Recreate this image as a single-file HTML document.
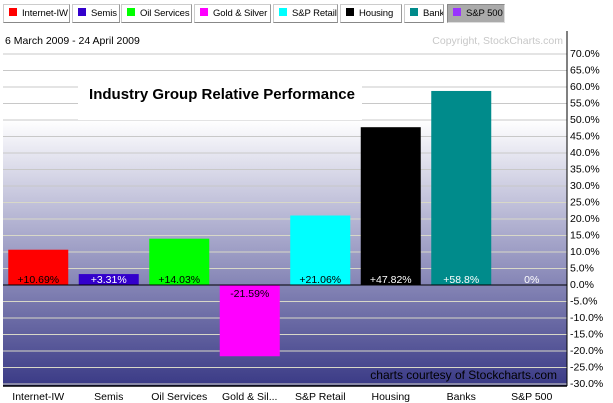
<!DOCTYPE html>
<html><head><meta charset="utf-8"><style>
body{margin:0;background:#fff;width:613px;height:403px;overflow:hidden;font-family:"Liberation Sans",sans-serif}
.tab{position:absolute;top:4px;height:19px;background:#fff;border:1px solid #ccc;border-right-color:#999;border-bottom-color:#888;box-sizing:border-box;font-size:9.5px;line-height:18px;padding-left:5px;color:#000;white-space:nowrap;overflow:hidden;letter-spacing:-0.1px}
.tab i{display:inline-block;width:8px;height:8px;margin-right:5px;vertical-align:0}
</style></head><body>
<div id="legend"></div>
<svg id="chart" width="613" height="403" style="position:absolute;left:0;top:0">
<defs><linearGradient id="bg" x1="0" x2="0" y1="120" y2="386" gradientUnits="userSpaceOnUse">
<stop offset="0" stop-color="#ffffff"/><stop offset="0.5" stop-color="#9c9cc4"/><stop offset="1" stop-color="#3a3a86"/></linearGradient></defs>
</svg>
<script>
const categories=["Internet-IW","Semis","Oil Services","Gold & Sil...","S&P Retail","Housing","Banks","S&P 500"];
const legendNames=["Internet-IW","Semis","Oil Services","Gold & Silver","S&P Retail","Housing","Banks","S&P 500"];
const values=[10.69,3.31,14.03,-21.59,21.06,47.82,58.8,0];
const valueLabels=["+10.69%","+3.31%","+14.03%","-21.59%","+21.06%","+47.82%","+58.8%","0%"];
const colors=["#ff0000","#3300cc","#00ff00","#ff00ff","#00ffff","#000000","#008b8b","#9933ff"];
const ticks=[70,65,60,55,50,45,40,35,30,25,20,15,10,5,0,-5,-10,-15,-20,-25,-30];
const tabX=[[3,70],[72,120],[121,192],[194,271],[273,338],[340,402],[404,444],[447,505]];
const NS="http://www.w3.org/2000/svg";
const svg=document.getElementById('chart');
const L=3,R=567,T=54,B=386;
const y=v=>285-v*3.3;
const bw=(R-L)/categories.length;
const x=i=>L+bw*i+bw/2;
function mk(t,a,p){const e=document.createElementNS(NS,t);for(const k in a)e.setAttribute(k,a[k]);(p||svg).appendChild(e);return e;}
let bgEl=mk('rect',{x:L,y:T,width:R-L,height:B-T,fill:'url(#bg)'});


ticks.forEach(t=>{
 const yy=y(t);
 const g=mk('line',{x1:L,x2:R,y1:yy,y2:yy,stroke:yy<200?'#c8c8c8':'#d8d8c8','stroke-width':1});
 
 
 const tl=mk('text',{x:R+3,y:yy+3,'font-size':10.5,fill:'#000'});
 tl.textContent=t.toFixed(1)+'%';
 
 
});
let tb=mk('rect',{x:78,y:77,width:284,height:43,fill:'#fff'});


let title=mk('text',{x:222,y:99,'font-size':15,'font-weight':'bold','text-anchor':'middle',fill:'#000'});
title.textContent='Industry Group Relative Performance';


values.forEach((v,i)=>{
 const cx=x(i);
 if(v!==0){
  const r=mk('rect',{x:cx-30,y:Math.min(y(v),y(0)),width:60,height:Math.abs(y(v)-y(0)),fill:colors[i]});
  
  
 }
 const light=(i===1||i===5||i===6||i===7);
 const lt=mk('text',{x:cx,y:v>=0?y(0)-2:y(0)+12,'font-size':10.5,'text-anchor':'middle',fill:light?'#fff':'#000'});
 lt.textContent=valueLabels[i];
 
 
 const cl=mk('text',{x:cx,y:400,'font-size':10.5,'text-anchor':'middle',fill:'#000'});
 cl.textContent=categories[i];
 
 
});
let zl=mk('line',{x1:L,x2:R,y1:y(0),y2:y(0),stroke:'#000','stroke-width':1});


let ax=mk('line',{x1:R,x2:R,y1:31,y2:B,stroke:'#000','stroke-width':1});


let bl=mk('line',{x1:L,x2:R,y1:B,y2:B,stroke:'#000','stroke-width':1.5});


let dt=mk('text',{x:5,y:44,'font-size':10.5,fill:'#000'});
dt.textContent='6 March 2009 - 24 April 2009';


let cp=mk('text',{x:563,y:44,'font-size':10.5,'text-anchor':'end',fill:'#c8c8c8'});
cp.textContent='Copyright, StockCharts.com';


let ct=mk('text',{x:557,y:379,'font-size':12,'text-anchor':'end',fill:'#000'});
ct.textContent='charts courtesy of Stockcharts.com';


const leg=document.getElementById('legend');
legendNames.forEach((n,i)=>{
 const d=document.createElement('div');
 d.className='tab';
 d.style.left=tabX[i][0]+'px';d.style.width=(tabX[i][1]-tabX[i][0])+'px';
 if(i===7){d.style.background='#aaa';d.style.borderColor='#888 #ddd #ddd #888';}
 d.innerHTML='<i style="background:'+colors[i]+'"></i>'+n.replace('&','&amp;');
 
 
 leg.appendChild(d);
});
</script>
</body></html>
